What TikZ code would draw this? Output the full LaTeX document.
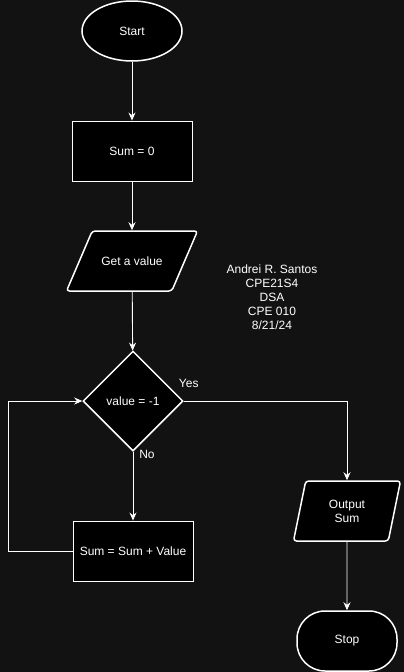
\documentclass[tikz,border=0pt]{standalone}
\usepackage{fontspec}
\setmainfont{Liberation Sans}
\usetikzlibrary{shapes, arrows.meta}
\definecolor{canvas}{RGB}{18,18,18}

\begin{document}
\begin{tikzpicture}[x=1pt, y=-1pt,
        every node/.style={text=white, font=\fontsize{12}{14}\selectfont},
        block/.style={draw=white, fill=black, inner sep=0pt},
        io/.style={block, line width=1.5pt, trapezium, trapezium stretches body,
            rounded corners=3pt, inner xsep=0pt, minimum height=60pt},
        line/.style={draw=white, line width=0.9pt},
        >={Stealth[length=8pt, width=7pt]}]
        \fill[canvas] (0,0) rectangle (404,672);
        \useasboundingbox (0,0) rectangle (404,672);
        \node[block, ellipse, line width=1.5pt, minimum width=100pt, minimum height=60pt] (Start) at (132,31) {
            Start
        };
        \node[block, line width=0.9pt, minimum width=120pt, minimum height=60pt] (SumZero) at (132,151) {
            Sum = 0
        };
        \node[io, inner ysep=24.5pt, trapezium left angle=66, trapezium right angle=114, minimum width=131pt] (GetValue) at (132,261) {
            Get a value
        };
        \node[block, diamond, line width=1.5pt, minimum width=100pt, minimum height=100pt] (Check) at (133,401) {
            value = -1
        };
        \node[block, line width=0.9pt, minimum width=120pt, minimum height=60pt] (AddValue) at (133,551) {
            Sum = Sum + Value
        };
        \node[io, align=center, inner ysep=17.5pt, trapezium left angle=78, trapezium right angle=102, minimum width=107pt] (Output) at (347,511) {
            Output\\Sum
        };
        \node[block, line width=1.5pt, rounded corners=28pt, minimum width=100pt, minimum height=60pt] (Stop) at (347,641) {
            Stop
        };
        \node[align=center] (Author) at (272,297) {
            Andrei R. Santos\\CPE21S4\\DSA\\CPE 010\\8/21/24
        };
        \draw[line, ->] (Start) to (SumZero);
        \draw[line, ->] (SumZero) to (GetValue);
        \draw[line, ->] (GetValue) to (Check);
        \draw[line, ->] (Check) to node[pos=0, xshift=14pt, yshift=-3pt] {
            No
        } (AddValue);
        \draw[line, ->] (Check.east) -| node[pos=0, xshift=5pt, yshift=18pt] {
            Yes
        } (Output.north);
        \draw[line, ->] (AddValue.west) -- ++(-64,0) |- (Check.west);
        \draw[line, ->] (Output) to (Stop);
\end{tikzpicture}
\end{document}
